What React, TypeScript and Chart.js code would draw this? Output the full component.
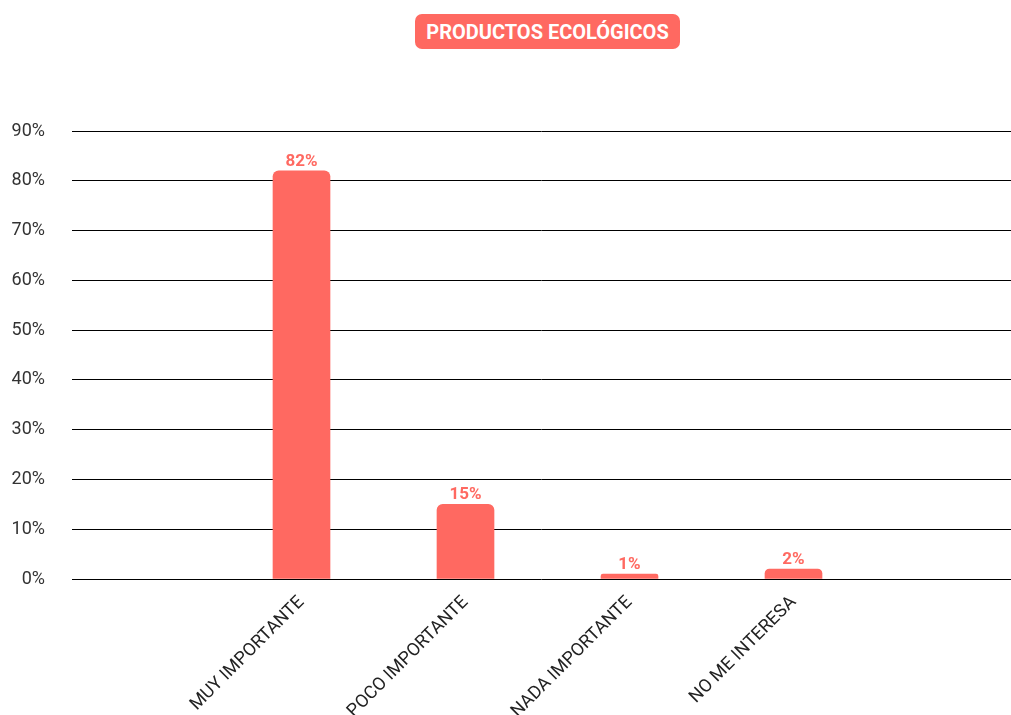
import React, { useEffect, useRef } from "react";
import { Chart, registerables } from "chart.js";

Chart.register(...registerables);

const chartTitle = "PRODUCTOS ECOLÓGICOS";
const categories = ["MUY IMPORTANTE", "POCO IMPORTANTE", "NADA IMPORTANTE", "NO ME INTERESA"];
const values = [82, 15, 1, 2];
const positions = [1, 2, 3, 4];
const yMin = 0;
const yMax = 90;
const yStep = 10;

const RED = "#ff6961";

const dataLabelPlugin = {
  id: "dataLabels",
  afterDatasetsDraw(chart: any) {
    const ctx = chart.ctx;
    const meta = chart.getDatasetMeta(0);
    ctx.save();
    ctx.fillStyle = RED;
    ctx.font = "bold 17px Roboto";
    ctx.textAlign = "center";
    ctx.textBaseline = "bottom";
    meta.data.forEach((bar: any, i: number) => {
      ctx.fillText(values[i] + "%", bar.x, bar.y - 1);
    });
    ctx.restore();
  },
};

export default function App() {
  const ref = useRef<HTMLCanvasElement | null>(null);
  useEffect(() => {
    if (!ref.current) return;
    const chart = new Chart(ref.current, {
      type: "bar",
      data: {
        datasets: [
          {
            data: values.map((v, i) => ({ x: positions[i], y: v })),
            backgroundColor: RED,
            borderRadius: 6,
            borderSkipped: "bottom",
            barThickness: 57,
          } as any,
        ],
      },
      options: {
        animation: false,
        responsive: false,
        devicePixelRatio: 1,
        layout: { padding: { top: 131, right: 0, left: 0, bottom: 0 } },
        plugins: { legend: { display: false }, tooltip: { enabled: false }, title: { display: false } },
        scales: {
          x: {
            type: "linear",
            min: 1 - 229.5 / 164,
            max: 1 - 229.5 / 164 + 939 / 164,
            offset: false,
            grid: { display: false },
            border: { display: false },
            afterBuildTicks: (axis: any) => {
              axis.ticks = positions.map((p) => ({ value: p }));
            },
            afterFit: (axis: any) => {
              axis.height = 136;
            },
            ticks: {
              autoSkip: false,
              minRotation: 45,
              maxRotation: 45,
              padding: 5,
              color: "#222",
              font: { family: "Roboto", size: 18 },
              callback: (v: any) => {
                const idx = positions.indexOf(Number(v));
                return idx >= 0 ? categories[idx] : "";
              },
            },
          },
          y: {
            min: yMin,
            max: yMax,
            grid: { color: "#000", lineWidth: 1, drawTicks: false },
            border: { display: false },
            afterFit: (axis: any) => {
              axis.width = 72;
            },
            ticks: {
              stepSize: yStep,
              padding: 27,
              color: "#333",
              font: { family: "Roboto", size: 18 },
              callback: (v: any) => v + "%",
            },
          },
        },
      },
      plugins: [dataLabelPlugin],
    });
    return () => chart.destroy();
  }, []);

  return (
    <div style={{ position: "fixed", top: 0, left: 0, width: 1011, height: 715, background: "#fff" }}>
      <canvas ref={ref} width={1011} height={715} style={{ position: "absolute", top: 0, left: 0 }} />
      <div
        style={{
          position: "absolute",
          left: 415,
          top: 14,
          width: 265,
          height: 35,
          background: RED,
          borderRadius: 7,
          color: "#fff",
          fontFamily: "Roboto",
          fontWeight: 700,
          fontSize: 20,
          display: "flex",
          alignItems: "center",
          justifyContent: "center",
        }}
      >
        {chartTitle}
      </div>
    </div>
  );
}
